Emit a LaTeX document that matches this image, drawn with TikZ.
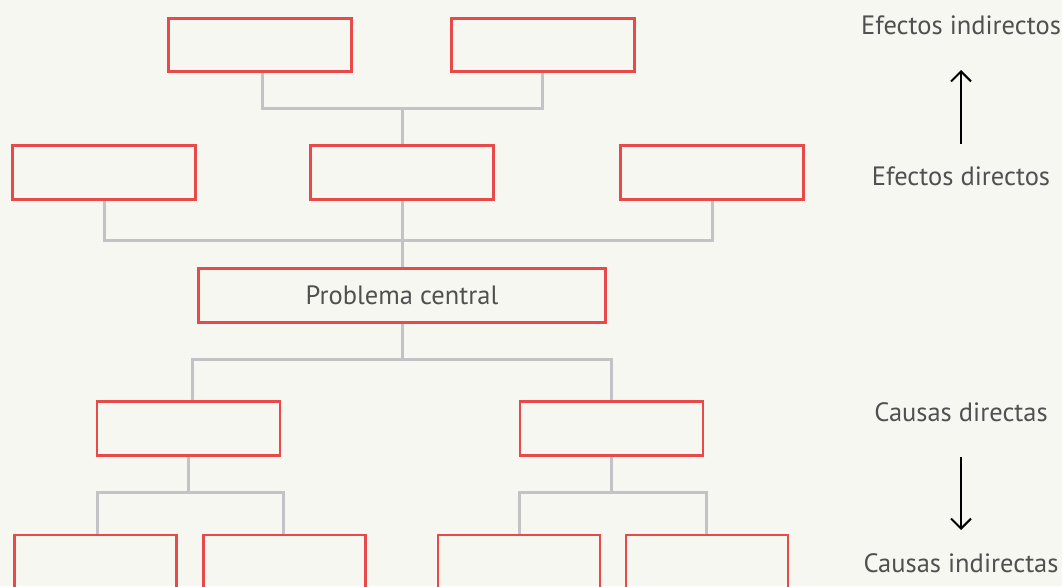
\documentclass[tikz,border=0pt]{standalone}
\usepackage{fontspec}
\setmainfont{PT Sans}
\usetikzlibrary{arrows.meta}
\definecolor{bgc}{HTML}{F7F7F2}
\definecolor{boxred}{HTML}{E84A4A}
\definecolor{linegray}{HTML}{C2C2C7}
\definecolor{txtgray}{HTML}{505050}
\tikzset{
  box/.style={draw=boxred, line width=2.8pt, rectangle, inner sep=0pt, minimum width=183pt, minimum height=53.5pt},
  link/.style={draw=linegray, line width=3pt},
  side/.style={text=txtgray, font=\fontsize{26.5}{30}\selectfont, inner sep=0pt},
  updown/.style={draw=black, line width=2pt, -{Straight Barb[length=10pt,width=20pt,line width=2pt]}}
}
\begin{document}
\begin{tikzpicture}[x=1pt,y=-1pt]
\clip (0,0) rectangle (1062,586);
\fill[bgc] (0,0) rectangle (1062,586);
% top row
\node[box] (t1) at (260,45) {};
\node[box] (t2) at (543,45) {};
% middle row
\node[box] (m1) at (104,172.5) {};
\node[box] (m2) at (402,172.5) {};
\node[box] (m3) at (712,172.5) {};
% central
\node[box, minimum width=407pt] (pc) at (402,295.5) {};
\node[text=txtgray, font=\fontsize{26.5}{30}\selectfont] (pclabel) at (pc.center) {Problema central};
% causes
\node[box] (c1) at (188.5,428.5) {};
\node[box] (c2) at (611.5,428.5) {};
% indirect causes
\node[box, minimum width=162pt, minimum height=80pt, anchor=north] (d1) at (95.5,533.5) {};
\node[box, minimum width=162pt, minimum height=80pt, anchor=north] (d2) at (284.5,533.5) {};
\node[box, minimum width=162pt, minimum height=80pt, anchor=north] (d3) at (519,533.5) {};
\node[box, minimum width=162pt, minimum height=80pt, anchor=north] (d4) at (707,533.5) {};
% junction coordinates
\coordinate (j1) at (402,108);
\coordinate (j2) at (402,240);
\coordinate (j3) at (402,359);
\coordinate (j4) at (188.5,492);
\coordinate (j5) at (611.5,492);
% connectors top
\draw[link] (t1.south -| 262,0) |- (j1) -| (t2.south -| 542,0);
\draw[link] (j1) -- (m2.north);
% connectors middle
\draw[link] (m1.south) |- (j2) -| (m3.south);
\draw[link] (m2.south) -- (pc.north);
% connectors causes
\draw[link] (pc.south) -- (j3);
\draw[link] (c1.north -| 192,0) |- (j3) -| (c2.north);
\draw[link] (c1.south) -- (j4);
\draw[link] (d1.north -| 97,0) |- (j4) -| (d2.north -| 283,0);
\draw[link] (c2.south) -- (j5);
\draw[link] (d3.north) |- (j5) -| (d4.north -| 706,0);
% side labels
\node[side] (ei) at (961,25) {Efectos indirectos};
\node[side] (ed) at (961,176) {Efectos directos};
\node[side] (cd) at (961,412) {Causas directas};
\node[side] (ci) at (961,563) {Causas indirectas};
\coordinate (a1s) at (961,144);
\coordinate (a1e) at (961,70);
\coordinate (a2s) at (961,457);
\coordinate (a2e) at (961,530);
\draw[updown] (a1s) -- (a1e);
\draw[updown] (a2s) -- (a2e);
\end{tikzpicture}
\end{document}
